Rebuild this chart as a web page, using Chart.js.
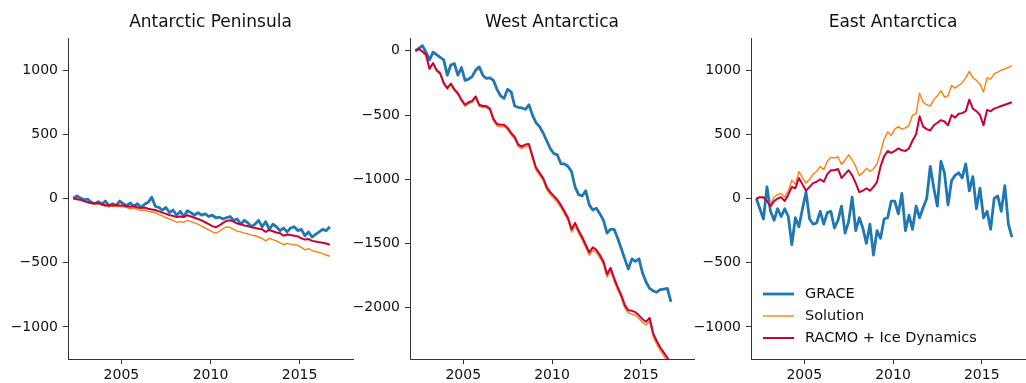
<!DOCTYPE html>
<html>
<head>
<meta charset="utf-8">
<script src="https://cdn.jsdelivr.net/npm/chart.js@4.4.0/dist/chart.umd.min.js"></script>
<style>
html, body { margin: 0; padding: 0; overflow: hidden; background: #fff; width: 1026px; height: 383px; }
canvas { position: absolute; top: 0; }
</style>
</head>
<body>
<canvas id="c1" width="349" height="383" style="left:8px"></canvas>
<canvas id="c2" width="348" height="383" style="left:350px"></canvas>
<canvas id="c3" width="348" height="383" style="left:691px"></canvas>
<script>
let years = [
	2002.3, 2002.5, 2002.7, 2002.9,
	2003.1, 2003.3, 2003.5, 2003.7, 2003.9,
	2004.1, 2004.3, 2004.5, 2004.7, 2004.9,
	2005.1, 2005.3, 2005.5, 2005.7, 2005.9,
	2006.1, 2006.3, 2006.5, 2006.7, 2006.9,
	2007.1, 2007.3, 2007.5, 2007.7, 2007.9,
	2008.1, 2008.3, 2008.5, 2008.7, 2008.9,
	2009.1, 2009.3, 2009.5, 2009.7, 2009.9,
	2010.1, 2010.3, 2010.5, 2010.7, 2010.9,
	2011.1, 2011.3, 2011.5, 2011.7, 2011.9,
	2012.1, 2012.3, 2012.5, 2012.7, 2012.9,
	2013.1, 2013.3, 2013.5, 2013.7, 2013.9,
	2014.1, 2014.3, 2014.5, 2014.7, 2014.9,
	2015.1, 2015.3, 2015.5, 2015.7, 2015.9,
	2016.1, 2016.3, 2016.5, 2016.7,
]

let seriesNames = ['GRACE', 'Solution', 'RACMO + Ice Dynamics']
let panelTitles = ['Antarctic Peninsula', 'West Antarctica', 'East Antarctica']
let xTicks = [2005, 2010, 2015]
let yTicksOuter = [-1000, -500, 0, 500, 1000]
let yTicksWest = [-2000, -1500, -1000, -500, 0]

// Antarctic Peninsula
let peninsulaGrace = [
	0, 20, 5, -10,
	-5, -30, -40, -25, -45,
	-20, -60, -40, -55, -20,
	-40, -55, -35, -60, -40,
	-70, -45, -30, 10, -60,
	-70, -90, -70, -110, -90,
	-130, -100, -140, -95, -110,
	-130, -110, -130, -120, -140,
	-130, -150, -145, -160, -150,
	-140, -170, -160, -200, -170,
	-190, -220, -200, -170, -220,
	-180, -240, -200, -220, -250,
	-230, -260, -230, -220, -250,
	-240, -290, -260, -300, -280,
	-260, -240, -250, -220,
]
let peninsulaSolution = [
	0, -5, -10, -20,
	-30, -40, -45, -40, -50,
	-60, -55, -60, -60, -65,
	-65, -70, -80, -75, -85,
	-95, -90, -100, -105, -110,
	-125, -135, -150, -160, -170,
	-185, -180, -185, -170, -180,
	-190, -200, -215, -230, -245,
	-260, -270, -255, -235, -220,
	-225, -240, -255, -260, -270,
	-275, -285, -290, -300, -310,
	-330, -310, -320, -330, -345,
	-360, -350, -355, -360, -365,
	-380, -400, -390, -405, -415,
	-420, -430, -440, -450,
]
let peninsulaRacmo = [
	0, -5, -10, -20,
	-30, -35, -40, -35, -45,
	-55, -50, -55, -50, -55,
	-55, -60, -65, -60, -70,
	-75, -70, -80, -85, -90,
	-100, -110, -120, -130, -135,
	-145, -140, -145, -130, -140,
	-150, -160, -170, -185, -200,
	-215, -225, -210, -190, -175,
	-170, -180, -195, -200, -210,
	-215, -225, -230, -235, -240,
	-260, -245, -255, -265, -270,
	-290, -280, -285, -290, -295,
	-310, -320, -315, -330, -335,
	-340, -345, -350, -360,
]

// West Antarctica
let westGrace = [
	0, 20, 40, -10,
	-70, -10, -30, -50, -70,
	-190, -110, -100, -190, -130,
	-230, -220, -200, -150, -125,
	-190, -215, -210, -230, -300,
	-350, -370, -300, -320, -430,
	-440, -445, -455, -420, -500,
	-560, -590, -640, -700, -760,
	-800, -810, -880, -880, -900,
	-940, -1060, -1120, -1130, -1090,
	-1200, -1240, -1225, -1270, -1320,
	-1420, -1390, -1390, -1460, -1540,
	-1620, -1700, -1620, -1640, -1620,
	-1730, -1800, -1850, -1870, -1880,
	-1860, -1855, -1850, -1955,
]
let westSolution = [
	0, 12, -8, -35,
	-145, -100, -158, -183, -258,
	-298, -265, -310, -340, -392,
	-432, -412, -400, -368, -432,
	-442, -442, -462, -545, -585,
	-590, -590, -615, -655, -686,
	-746, -762, -747, -742, -838,
	-928, -968, -1008, -1080, -1120,
	-1150, -1180, -1220, -1270, -1320,
	-1412, -1362, -1422, -1472, -1532,
	-1592, -1552, -1572, -1612, -1662,
	-1762, -1712, -1792, -1862, -1922,
	-2002, -2042, -2050, -2060, -2085,
	-2115, -2135, -2105, -2225, -2285,
	-2335, -2375, -2415, -2465,
]
let westRacmo = [
	0, 15, -5, -30,
	-140, -95, -150, -175, -250,
	-290, -255, -300, -330, -380,
	-420, -400, -390, -355, -420,
	-430, -430, -450, -530, -570,
	-575, -575, -600, -640, -670,
	-730, -745, -730, -725, -820,
	-910, -950, -990, -1060, -1100,
	-1130, -1160, -1200, -1250, -1300,
	-1390, -1340, -1400, -1450, -1510,
	-1570, -1530, -1550, -1590, -1640,
	-1740, -1690, -1770, -1840, -1900,
	-1980, -2020, -2025, -2035, -2060,
	-2090, -2110, -2080, -2200, -2260,
	-2310, -2350, -2390, -2440,
]

// East Antarctica
let eastGrace = [
	0, -80, -160, 90,
	-100, -170, -80, -140, -80,
	-140, -360, -150, -220, -80,
	50, -160, -200, -190, -100,
	-200, -110, -100, -230, -170,
	-60, -270, -180, 10, -250,
	-150, -230, -350, -200, -440,
	-250, -310, -160, -150, -20,
	-20, -120, 40, -250, -130,
	-240, -60, -150, -70, 0,
	250, 80, -60, 290, 200,
	-50, 140, 180, 200, 160,
	270, 60, 170, -80, 80,
	-150, -100, -240, 0, 20,
	-100, 100, -200, -300,
]
let eastSolution = [
	0, 10, 5, -20,
	-45, 10, 30, 40, 10,
	60, 140, 110, 210, 160,
	120, 150, 190, 210, 250,
	225, 290, 320, 315, 325,
	265, 300, 340, 300, 250,
	180, 200, 235, 210, 230,
	270, 360, 460, 520, 490,
	540, 560, 540, 550, 570,
	650, 660, 820, 750, 730,
	720, 770, 800, 840, 790,
	800, 880, 860, 880, 900,
	940, 990, 940, 920, 890,
	830, 940, 930, 970, 985,
	1000, 1010, 1020, 1035,
]
let eastRacmo = [
	0, 10, 10, -20,
	-60, -20, 0, 10, -20,
	30, 90, 80, 160, 110,
	60, 90, 120, 130, 150,
	130, 190, 220, 220, 230,
	160, 190, 220, 180, 120,
	50, 60, 80, 60, 90,
	130, 250, 330, 370, 355,
	370, 390, 375, 370, 390,
	450, 500, 640, 560, 540,
	530, 570, 590, 610, 600,
	570, 650, 630, 660, 665,
	680, 770, 700, 680, 650,
	570, 690, 680, 700, 710,
	720, 730, 740, 750,
]

let colors = ['#1f77b4', '#ff7f0e', '#c9003a']
let widths = [2.8, 1.4, 2.0]

Chart.defaults.font.family = '"DejaVu Sans", sans-serif'
Chart.defaults.font.size = 14
Chart.defaults.color = '#111'
Chart.defaults.devicePixelRatio = 1

function minusSign(v) {
	return String(v).replace('-', '\u2212')
}

// title over plot area + legend inside plot area (like matplotlib)
const panelDecor = {
	id: 'panelDecor',
	afterDraw(chart, args, opts) {
		const ctx = chart.ctx
		const a = chart.chartArea
		ctx.save()
		ctx.fillStyle = '#111'
		ctx.font = '17px "DejaVu Sans"'
		ctx.textAlign = 'center'
		ctx.textBaseline = 'middle'
		ctx.fillText(opts.title, (a.left + a.right) / 2, 23)
		if (opts.legend) {
			ctx.font = '14.5px "DejaVu Sans"'
			ctx.textAlign = 'left'
			seriesNames.forEach((name, i) => {
				let y = 294 + i * 22
				ctx.strokeStyle = colors[i]
				ctx.lineWidth = widths[i]
				ctx.beginPath()
				ctx.moveTo(a.left + 12, y)
				ctx.lineTo(a.left + 43, y)
				ctx.stroke()
				ctx.fillText(name, a.left + 54, y)
			})
		}
		ctx.restore()
	},
}

function makePanel(id, title, series, yMin, yMax, yTicks, showLegend) {
	let datasets = series.map((vals, i) => ({
		label: seriesNames[i],
		data: years.map((x, j) => ({ x: x, y: vals[j] })),
		borderColor: colors[i],
		borderWidth: widths[i],
		pointRadius: 0,
		borderJoinStyle: 'round',
		tension: 0,
		order: 2 - i,
	}))
	let ctx = document.getElementById(id).getContext('2d')
	return new Chart(ctx, {
		type: 'line',
		data: { datasets: datasets },
		plugins: [panelDecor],
		options: {
			responsive: false,
			animation: false,
			layout: { padding: { top: 38, right: 4, left: 0, bottom: 0 } },
			plugins: {
				legend: { display: false },
				tooltip: { enabled: false },
				panelDecor: { title: title, legend: showLegend },
			},
			scales: {
				x: {
					type: 'linear',
					min: 2002,
					max: 2018,
					afterBuildTicks: (s) => { s.ticks = xTicks.map((v) => ({ value: v })) },
					afterFit: (s) => { s.height = 24 },
					ticks: { maxRotation: 0, autoSkip: false, padding: 3, callback: (v) => String(v) },
					grid: { drawOnChartArea: false, tickLength: 5, color: '#333', tickColor: '#333' },
					border: { color: '#333', width: 1 },
				},
				y: {
					min: yMin,
					max: yMax,
					afterBuildTicks: (s) => { s.ticks = yTicks.map((v) => ({ value: v })) },
					afterFit: (s) => { s.width = 60 },
					ticks: { padding: 5, callback: (v) => minusSign(v) },
					grid: { drawOnChartArea: false, tickLength: 5, color: '#333', tickColor: '#333' },
					border: { color: '#333', width: 1 },
				},
			},
		},
	})
}

makePanel('c1', panelTitles[0], [peninsulaGrace, peninsulaSolution, peninsulaRacmo], -1250, 1250, yTicksOuter, false)
makePanel('c2', panelTitles[1], [westGrace, westSolution, westRacmo], -2400, 100, yTicksWest, false)
makePanel('c3', panelTitles[2], [eastGrace, eastSolution, eastRacmo], -1250, 1250, yTicksOuter, true)
</script>
</body>
</html>
